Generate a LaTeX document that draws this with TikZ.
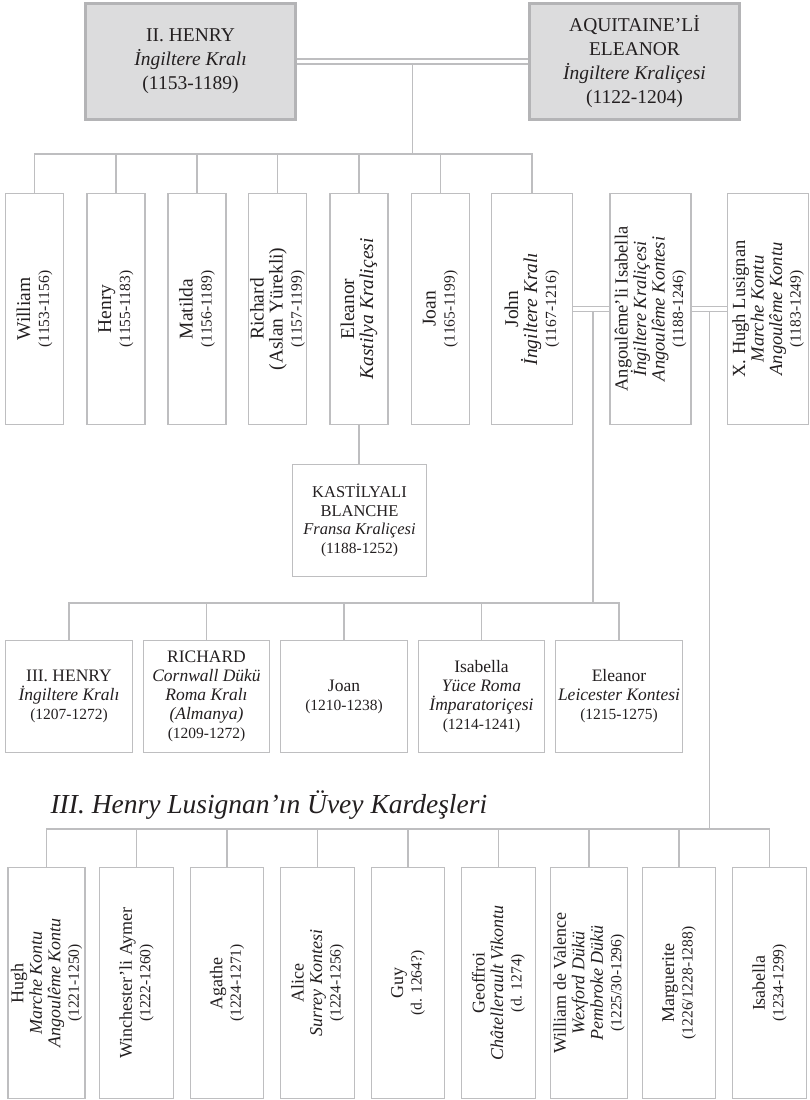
\documentclass[tikz,border=0pt]{standalone}
\usepackage{fontspec}
\setmainfont{Liberation Serif}
\usetikzlibrary{calc}
\definecolor{linegray}{HTML}{BEBEC0}
\definecolor{royalfill}{HTML}{DCDCDD}
\definecolor{royaledge}{HTML}{B4B4B6}
\definecolor{ink}{HTML}{231F20}
\newcommand{\yr}[2][15.5]{{\fontsize{#1}{#1}\selectfont #2}}
\lineskiplimit=-30pt
\begin{document}
\begin{tikzpicture}[x=1pt,y=-1pt,
  every node/.append style={text=ink},
  royal/.style={draw=royaledge, line width=2.6pt, fill=royalfill, inner sep=0pt,
    minimum width=210pt, minimum height=116pt, align=center,
    font=\fontsize{19.5}{24}\selectfont},
  kidbox/.style={draw=linegray, line width=1.4pt, rotate=90, inner sep=0pt,
    minimum width=230.6pt, minimum height=58pt, align=center,
    font=\fontsize{19.5}{19}\selectfont},
  widekid/.style={kidbox, minimum height=81pt},
  halfbox/.style={kidbox, minimum height=73.5pt, font=\fontsize{18}{18.5}\selectfont},
  grandbox/.style={draw=linegray, line width=1.4pt, inner sep=0pt,
    minimum width=126.5pt, minimum height=111.5pt, align=center,
    font=\fontsize{17.5}{19}\selectfont},
  kinline/.style={draw=linegray, line width=1.4pt},
  wedline/.style={draw=linegray, line width=1.5pt, double=white, double distance=3.5pt}]
  \useasboundingbox (0,0) rectangle (810,1100);

  % the royal couple
  \node[royal] (henry) at (190.5,61.5) {II. HENRY\\\textit{İngiltere Kralı}\\(1153-1189)};
  \node[royal] (eleanor) at (634.5,61.5) {AQUITAINE’Lİ\\ELEANOR\\\textit{İngiltere Kraliçesi}\\(1122-1204)};

  % their children (text turned up the box)
  \node[kidbox] (william) at (34.5,309) {William\\\yr{(1153-1156)}};
  \node[kidbox] (henryj) at (116,309) {Henry\\\yr{(1155-1183)}};
  \node[kidbox] (matilda) at (197,309) {Matilda\\\yr{(1156-1189)}};
  \node[kidbox] (richard) at (277.5,309) {Richard\\(Aslan Yürekli)\\\yr{(1157-1199)}};
  \node[kidbox] (eleanorj) at (359,309) {Eleanor\\\textit{Kastilya Kraliçesi}};
  \node[kidbox] (joan) at (440.5,309) {Joan\\\yr{(1165-1199)}};
  \node[widekid] (john) at (532,309) {John\\\textit{İngiltere Kralı}\\\yr{(1167-1216)}};
  \node[widekid, font=\fontsize{18.5}{18.5}\selectfont] (isabella) at (650.5,309) {Angoulême’li Isabella\\\textit{İngiltere Kraliçesi}\\\textit{Angoulême Kontesi}\\\yr{(1188-1246)}};
  \node[widekid, font=\fontsize{18.5}{18.5}\selectfont] (hugh) at (768,309) {X. Hugh Lusignan\\\textit{Marche Kontu}\\\textit{Angoulême Kontu}\\\yr{(1183-1249)}};

  \node[grandbox, minimum width=133.5pt, font=\fontsize{16.5}{18.5}\selectfont] (blanche) at (359.5,520.5)
    {KASTİLYALI\\BLANCHE\\\textit{Fransa Kraliçesi}\\\yr{(1188-1252)}};

  % john and isabella's children
  \node[grandbox] (henry3) at (69,696.5) {III. HENRY\\\textit{İngiltere Kralı}\\\yr{(1207-1272)}};
  \node[grandbox] (richard3) at (206.5,696.5) {RICHARD\\\textit{Cornwall Dükü}\\\textit{Roma Kralı}\\\textit{(Almanya)}\\\yr{(1209-1272)}};
  \node[grandbox] (joan3) at (344,696.5) {Joan\\\yr{(1210-1238)}};
  \node[grandbox] (isabella3) at (481.5,696.5) {Isabella\\\textit{Yüce Roma}\\\textit{İmparatoriçesi}\\\yr{(1214-1241)}};
  \node[grandbox] (eleanor3) at (619,696.5) {Eleanor\\\textit{Leicester Kontesi}\\\yr{(1215-1275)}};

  \node[anchor=base west, font=\fontsize{27.5}{30}\selectfont\itshape] (halftitle) at (47,813)
    {III. Henry Lusignan’ın Üvey Kardeşleri};

  % isabella and hugh's children
  \node[halfbox, minimum height=77pt] (hugh2) at (46.5,983) {Hugh\\\textit{Marche Kontu}\\\textit{Angoulême Kontu}\\\yr{(1221-1250)}};
  \node[halfbox] (aymer) at (136.5,983) {Winchester’li Aymer\\\yr{(1222-1260)}};
  \node[halfbox] (agathe) at (227,983) {Agathe\\\yr{(1224-1271)}};
  \node[halfbox] (alice) at (317.5,983) {Alice\\\textit{Surrey Kontesi}\\\yr{(1224-1256)}};
  \node[halfbox] (guy) at (408,983) {Guy\\\yr{(d. 1264?)}};
  \node[halfbox] (geoffroi) at (498.5,983) {Geoffroi\\\textit{Châtellerault Vikontu}\\\yr{(d. 1274)}};
  \node[halfbox, minimum height=77pt] (valence) at (589,983) {William de Valence\\\textit{Wexford Dükü}\\\textit{Pembroke Dükü}\\\yr{(1225/30-1296)}};
  \node[halfbox] (marguerite) at (679,983) {Marguerite\\\yr{(1226/1228-1288)}};
  \node[halfbox] (isabella2) at (769.5,983) {Isabella\\\yr{(1234-1299)}};

  % bus heights
  \coordinate (kidbus) at (0,154);
  \coordinate (grandbus) at (0,603);
  \coordinate (halfbus) at (0,829);
  \coordinate (m1) at ($(henry.east)!0.5!(eleanor.west)$);
  \coordinate (m2) at ($(john.south)!0.55!(isabella.north)$);
  \coordinate (m3) at ($(isabella.south)!0.5!(hugh.north)$);

  % descent lines (drawn under the marriage lines)
  \draw[kinline] (m1) -- (m1 |- kidbus);
  \draw[kinline] (william.east) |- (kidbus -| john.east) -- (john.east);
  \foreach \k in {henryj,matilda,richard,eleanorj,joan}
    \draw[kinline] (\k.east) -- (\k.east |- kidbus);
  \draw[kinline] (eleanorj.west) -- (eleanorj.west |- blanche.north);

  \draw[kinline] (m2) -- (m2 |- grandbus);
  \draw[kinline] (henry3.north) |- (grandbus -| eleanor3.north) -- (eleanor3.north);
  \foreach \g in {richard3,joan3,isabella3}
    \draw[kinline] (\g.north) -- (\g.north |- grandbus);

  \draw[kinline] (m3) -- (m3 |- halfbus);
  \draw[kinline] (hugh2.east) |- (halfbus -| isabella2.east) -- (isabella2.east);
  \foreach \h in {aymer,agathe,alice,guy,geoffroi,valence,marguerite}
    \draw[kinline] (\h.east) -- (\h.east |- halfbus);

  % marriages
  \draw[wedline] (henry.east) -- (eleanor.west);
  \draw[wedline] (john.south) -- (isabella.north);
  \draw[wedline] (isabella.south) -- (hugh.north);
\end{tikzpicture}
\end{document}
